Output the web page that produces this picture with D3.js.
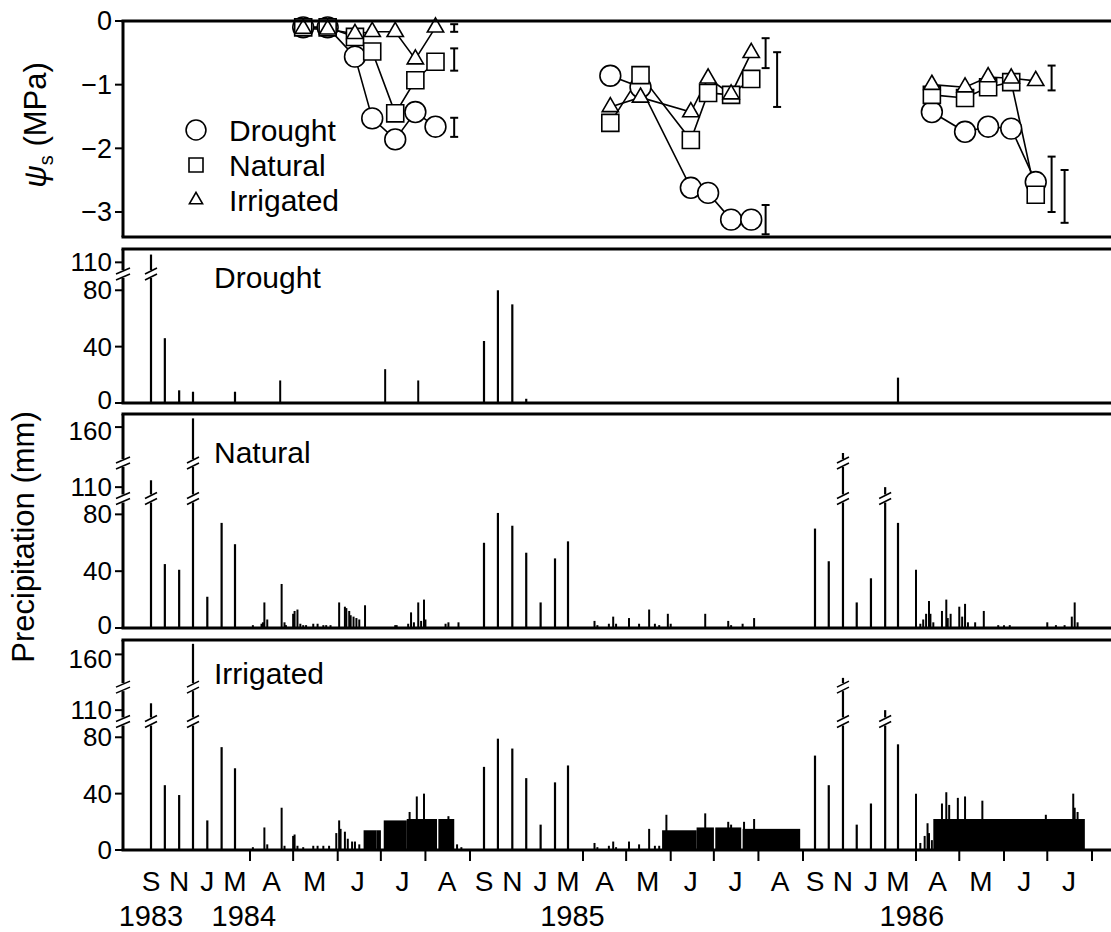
<!DOCTYPE html>
<html>
<head>
  <meta charset="utf-8">
  <title>Soil water potential and precipitation, 1983-1986</title>
  <style>
    html, body { margin: 0; padding: 0; background: #fff; overflow: hidden; }
    svg { display: block; font-family: "Liberation Sans", Arial, Helvetica, sans-serif; }
  </style>
  <script src="https://d3js.org/d3.v7.min.js"></script>
</head>
<body>
<script>
  // ---- x axis: month boundaries (ticks), month letters, years ----
  const monthTicks = ["1984-04-01","1984-05-01","1984-06-01","1984-07-01","1984-08-01","1984-09-01",
    "1985-04-01","1985-05-01","1985-06-01","1985-07-01","1985-08-01","1985-09-01",
    "1986-04-01","1986-05-01","1986-06-01","1986-07-01","1986-08-01"];
  const monthLabels = ["S","N","J","M","A","M","J","J","A",
    "S","N","J","M","A","M","J","J","A",
    "S","N","J","M","A","M","J","J"];
  const monthLabelDates = ["1983-09-15","1983-11-15","1984-01-15","1984-03-15","1984-04-16","1984-05-16","1984-06-15","1984-07-16","1984-08-16",
    "1984-09-15","1984-11-15","1985-01-15","1985-03-15","1985-04-16","1985-05-16","1985-06-15","1985-07-16","1985-08-16",
    "1985-09-15","1985-11-15","1986-01-15","1986-03-15","1986-04-16","1986-05-16","1986-06-15","1986-07-16"];
  const yearLabels = ["1983","1984","1985","1986"];
  const yearLabelDates = ["1983-09-15","1984-03-25","1985-03-20","1986-03-28"];

  // ---- monthly precipitation totals in the rainy season (mm) ----
  const rainMonths = ["1983-09-15","1983-10-15","1983-11-15","1983-12-15","1984-01-15","1984-02-15","1984-03-15",
    "1984-09-15","1984-10-15","1984-11-15","1984-12-15","1985-01-15","1985-02-15","1985-03-15",
    "1985-09-15","1985-10-15","1985-11-15","1985-12-15","1986-01-15","1986-02-15","1986-03-15"];
  const droughtMonthly   = [117,46,9,8,0,0,8,   44,80,70,3,0,0,0,    0,0,0,0,0,0,18];
  const naturalMonthly   = [116,45,41,168,22,74,59, 60,81,72,53,18,49,61, 70,47,138,18,35,110,74];
  const irrigatedMonthly = [116,46,39,171,21,73,58, 59,79,72,51,18,48,60, 67,46,138,18,33,110,75];

  // ---- daily precipitation in the growing season (mm) ----
  const droughtDaily = [["1984-04-22",16],["1984-07-04",24],["1984-07-27",16]];
  const naturalDaily = [
    ["1984-04-03",2],["1984-04-09",3],["1984-04-10",4],["1984-04-11",18],["1984-04-13",6],["1984-04-23",31],
    ["1984-04-25",4],["1984-04-26",2],["1984-05-01",10],["1984-05-02",12],["1984-05-04",13],["1984-05-06",3],
    ["1984-05-08",2],["1984-05-10",2],["1984-05-15",3],["1984-05-18",3],["1984-05-22",2],["1984-05-24",2],
    ["1984-05-27",2],["1984-06-02",18],["1984-06-06",15],["1984-06-07",14],["1984-06-09",12],["1984-06-10",9],
    ["1984-06-12",8],["1984-06-14",7],["1984-06-16",6],["1984-06-20",16],["1984-07-11",2],["1984-07-12",2],
    ["1984-07-20",3],["1984-07-22",11],["1984-07-24",4],["1984-07-27",18],["1984-07-29",5],["1984-07-31",20],
    ["1984-08-01",6],["1984-08-15",3],["1984-08-17",4],["1984-08-24",4],
    ["1985-04-09",5],["1985-04-11",2],["1985-04-19",3],["1985-04-22",8],["1985-04-24",3],["1985-05-03",7],
    ["1985-05-10",3],["1985-05-17",13],["1985-05-21",3],["1985-05-24",2],["1985-05-30",10],["1985-06-01",3],
    ["1985-06-25",10],["1985-07-11",5],["1985-07-13",2],["1985-07-21",3],["1985-07-29",7],
    ["1986-04-01",41],["1986-04-04",3],["1986-04-06",6],["1986-04-08",10],["1986-04-10",19],["1986-04-11",10],
    ["1986-04-13",4],["1986-04-19",12],["1986-04-22",20],["1986-04-23",7],["1986-04-25",10],["1986-05-01",15],
    ["1986-05-03",8],["1986-05-05",17],["1986-05-07",4],["1986-05-12",4],["1986-05-18",12],["1986-05-28",2],
    ["1986-06-01",2],["1986-06-05",2],["1986-07-01",4],["1986-07-07",2],["1986-07-13",2],["1986-07-18",8],
    ["1986-07-20",18],["1986-07-22",4]];
  // irrigated plot: rain plus irrigation (totals)
  const irrigatedDaily = [
    ["1984-04-03",2],["1984-04-11",16],["1984-04-13",4],["1984-04-23",30],["1984-04-25",3],["1984-05-01",10],
    ["1984-05-02",11],["1984-05-04",3],["1984-05-08",2],["1984-05-15",3],["1984-05-18",3],["1984-05-22",3],
    ["1984-05-26",3],["1984-05-31",12],["1984-06-02",21],["1984-06-03",15],["1984-06-06",13],["1984-06-08",8],
    ["1984-06-11",6],["1984-06-13",6],["1984-06-16",4],["1984-07-21",27],["1984-07-26",38],["1984-07-31",40],
    ["1984-08-17",24],["1984-08-23",4],["1984-08-26",2],
    ["1985-04-09",5],["1985-04-11",2],["1985-04-19",3],["1985-04-22",6],["1985-04-24",2],["1985-05-03",6],
    ["1985-05-10",4],["1985-05-17",15],["1985-05-21",3],["1985-05-24",3],["1985-05-29",25],["1985-06-25",26],
    ["1985-07-11",20],["1985-07-13",18],["1985-07-22",20],["1985-07-29",22],
    ["1986-04-01",40],["1986-04-04",5],["1986-04-07",10],["1986-04-09",19],["1986-04-10",12],["1986-04-12",7],
    ["1986-04-19",33],["1986-04-22",41],["1986-04-24",32],["1986-04-30",37],["1986-05-05",38],["1986-05-17",35],
    ["1986-06-30",25],["1986-07-19",40],["1986-07-20",30],["1986-07-22",27]];
  // irrigation periods: start, end, mm per day
  const irrigStart = ["1984-06-19","1984-06-28","1984-07-03","1984-07-19","1984-08-10",
    "1985-05-26","1985-06-19","1985-07-02","1985-07-21","1986-04-13"];
  const irrigEnd   = ["1984-06-27","1984-06-30","1984-07-18","1984-08-08","1984-08-20",
    "1985-06-18","1985-06-30","1985-07-19","1985-08-29","1986-07-26"];
  const irrigRate  = [14,14,21,22,22, 14,16,16,15, 22];

  // ---- soil water potential (MPa), one sub-array per season ----
  const psiDates = [
    ["1984-05-08","1984-05-25","1984-06-13","1984-06-25","1984-07-11","1984-07-25","1984-08-08"],
    ["1985-04-20","1985-05-11","1985-06-15","1985-06-27","1985-07-13","1985-07-27"],
    ["1986-04-12","1986-05-05","1986-05-21","1986-06-06","1986-06-23"]];
  const psiDrought = [
    [-0.1,-0.1,-0.56,-1.53,-1.86,-1.43,-1.66],
    [-0.86,-1.04,-2.62,-2.7,-3.12,-3.12],
    [-1.43,-1.74,-1.66,-1.69,-2.53]];
  const psiNatural = [
    [-0.1,-0.1,-0.25,-0.48,-1.45,-0.93,-0.64],
    [-1.6,-0.85,-1.87,-1.13,-1.16,-0.91],
    [-1.16,-1.21,-1.04,-0.96,-2.73]];
  const psiIrrigated = [
    [-0.12,-0.13,-0.2,-0.17,-0.17,-0.6,-0.1],
    [-1.35,-1.2,-1.43,-0.9,-1.15,-0.5],
    [-1.0,-1.04,-0.88,-0.9,-0.94]];
  // error bars (date, upper, lower)
  const errDates = ["1984-08-21","1984-08-21","1984-08-21","1985-08-06","1985-08-14","1985-08-06","1986-07-04","1986-07-04","1986-07-13"];
  const errHi = [-0.05,-0.43,-1.52,-0.27,-0.49,-2.89,-0.7,-2.13,-2.34];
  const errLo = [-0.17,-0.78,-1.82,-0.74,-1.35,-3.35,-1.09,-3.0,-3.17];

  const W = 1111, H = 932, X0 = 123;
  const parse = d3.utcParse("%Y-%m-%d");

  // compressed rainy season (monthly totals), expanded growing season (daily)
  const x = d3.scaleUtc()
    .domain(["1983-09-01","1983-09-15","1984-03-15","1984-04-01","1984-09-01","1984-09-15","1985-03-15",
             "1985-04-01","1985-09-01","1985-09-15","1986-03-15","1986-04-01","1986-08-01","1986-09-01"].map(parse))
    .range([137,151,235,250,470,484,568,583,803,815,898,916,1092,1136]);

  const svg = d3.select("body").append("svg").attr("width", W).attr("height", H);

  function hline(y, x1, x2, w) {
    svg.append("line").attr("x1", x1).attr("x2", x2).attr("y1", y).attr("y2", y)
      .attr("stroke", "#000").attr("stroke-width", w);
  }
  function breakMark(cx, cy, hw) {
    svg.append("line").attr("x1", cx).attr("x2", cx).attr("y1", cy - 4).attr("y2", cy + 4)
      .attr("stroke", "#fff").attr("stroke-width", 5);
    [-3, 3].forEach(o => svg.append("line")
      .attr("x1", cx - hw).attr("y1", cy + o + 3).attr("x2", cx + hw).attr("y2", cy + o - 3)
      .attr("stroke", "#000").attr("stroke-width", 1.6));
  }

  // ---- precipitation panels ----
  const panels = [
    { name: "Drought", top: 249, base: 403, dom: [0, 88, 104, 122], offs: [0, -124, -134, -154],
      breaks: [96], ticks: [0, 40, 80, 110], monthly: droughtMonthly, daily: droughtDaily, labelY: 288 },
    { name: "Natural", top: 414, base: 628, dom: [0, 88, 104, 118, 150, 172], offs: [0, -125, -134, -150, -190, -214],
      breaks: [96, 130], ticks: [0, 40, 80, 110, 160], monthly: naturalMonthly, daily: naturalDaily, labelY: 463 },
    { name: "Irrigated", top: 640, base: 850, dom: [0, 88, 104, 118, 150, 175], offs: [0, -124, -133, -149, -186, -210],
      breaks: [96, 130], ticks: [0, 40, 80, 110, 160], monthly: irrigatedMonthly, daily: irrigatedDaily, labelY: 684 }
  ];

  panels.forEach((p, pi) => {
    const y = d3.scaleLinear().domain(p.dom).range(p.offs.map(o => p.base + o)).clamp(true);
    const g = svg.append("g");

    if (p.name === "Irrigated") {
      g.selectAll("rect.irr").data(irrigRate).join("rect")
        .attr("x", (d, i) => x(parse(irrigStart[i])))
        .attr("width", (d, i) => x(parse(irrigEnd[i])) - x(parse(irrigStart[i])) + 1.5)
        .attr("y", d => y(d)).attr("height", d => p.base - y(d)).attr("fill", "#000");
    }

    const bars = rainMonths.map((m, i) => ({ date: parse(m), v: p.monthly[i], w: 2.2 }))
      .concat(p.daily.map(d => ({ date: parse(d[0]), v: d[1], w: 2 })))
      .filter(d => d.v > 0);
    g.selectAll("line.bar").data(bars).join("line")
      .attr("x1", d => x(d.date)).attr("x2", d => x(d.date))
      .attr("y1", p.base).attr("y2", d => y(d.v))
      .attr("stroke", "#000").attr("stroke-width", d => d.w);
    bars.forEach(d => p.breaks.forEach(b => { if (d.v > b + 4) breakMark(x(d.date), y(b), 6); }));

    // frame: top border, baseline, left axis
    hline(p.top, X0 - 1.5, W, 3);
    hline(p.base, X0 - 1.5, W, 3);
    svg.append("line").attr("x1", X0).attr("x2", X0).attr("y1", p.base).attr("y2", p.top)
      .attr("stroke", "#000").attr("stroke-width", 3);
    p.breaks.forEach(b => breakMark(X0, y(b), 7));
    p.ticks.forEach(t => {
      svg.append("line").attr("x1", X0 - 8).attr("x2", X0).attr("y1", y(t)).attr("y2", y(t))
        .attr("stroke", "#000").attr("stroke-width", 2);
      // nudge the labels that sit next to a neighbouring panel so they do not collide
      const nudge = (t === 0 && pi < 2) ? -3 : (t === 160 ? 4 : 0);
      svg.append("text").attr("x", X0 - 11).attr("y", y(t) + nudge).attr("dy", "0.35em")
        .attr("text-anchor", "end").style("font-size", "26px").text(t);
    });
    svg.append("text").attr("x", 214).attr("y", p.labelY).style("font-size", "30px").text(p.name);
  });

  // bottom axis ticks and labels
  monthTicks.forEach(t => {
    svg.append("line").attr("x1", x(parse(t))).attr("x2", x(parse(t))).attr("y1", 850).attr("y2", 861)
      .attr("stroke", "#000").attr("stroke-width", 2);
  });
  svg.selectAll("text.month").data(monthLabels).join("text")
    .attr("x", (d, i) => x(parse(monthLabelDates[i]))).attr("y", 891)
    .attr("text-anchor", "middle").style("font-size", "28px").text(d => d);
  svg.selectAll("text.year").data(yearLabels).join("text")
    .attr("x", (d, i) => x(parse(yearLabelDates[i]))).attr("y", 926)
    .attr("text-anchor", "middle").style("font-size", "29px").text(d => d);

  // ---- soil water potential panel ----
  const yPsi = d3.scaleLinear().domain([0, -3]).range([21, 212]);
  const psiTop = 21, psiBottom = 237;

  // error bars
  errDates.forEach((d, i) => {
    const cx = x(parse(d));
    svg.append("line").attr("x1", cx).attr("x2", cx).attr("y1", yPsi(errHi[i])).attr("y2", Math.min(yPsi(errLo[i]), psiBottom))
      .attr("stroke", "#000").attr("stroke-width", 2);
    [errHi[i], errLo[i]].forEach(v => {
      if (yPsi(v) < psiBottom) svg.append("line").attr("x1", cx - 4).attr("x2", cx + 4)
        .attr("y1", yPsi(v)).attr("y2", yPsi(v)).attr("stroke", "#000").attr("stroke-width", 2);
    });
  });

  const series = [
    { vals: psiDrought, sym: d3.symbolCircle, size: 340 },
    { vals: psiNatural, sym: d3.symbolSquare, size: 290 },
    { vals: psiIrrigated, sym: d3.symbolTriangle, size: 115 }
  ];
  const line = d3.line().x(d => x(d.date)).y(d => yPsi(d.v));
  const pts = series.map(s => psiDates.map((ds, k) => ds.map((d, j) => ({ date: parse(d), v: s.vals[k][j] }))));
  pts.forEach(seasons => seasons.forEach(season => {
    svg.append("path").datum(season).attr("d", line).attr("fill", "none")
      .attr("stroke", "#000").attr("stroke-width", 1.6);
  }));
  series.forEach((s, si) => {
    const sym = d3.symbol().type(s.sym).size(s.size);
    pts[si].flat().forEach(d => {
      svg.append("path").attr("d", sym()).attr("transform", `translate(${x(d.date)},${yPsi(d.v)})`)
        .attr("fill", "#fff").attr("stroke", "#000").attr("stroke-width", 1.6);
    });
  });

  // frame
  hline(psiTop, X0 - 1.5, W, 3);
  hline(psiBottom, X0 - 1.5, W, 3);
  svg.append("line").attr("x1", X0).attr("x2", X0).attr("y1", psiBottom).attr("y2", psiTop)
    .attr("stroke", "#000").attr("stroke-width", 3);
  [0, -1, -2, -3].forEach(t => {
    svg.append("line").attr("x1", X0 - 8).attr("x2", X0).attr("y1", yPsi(t)).attr("y2", yPsi(t))
      .attr("stroke", "#000").attr("stroke-width", 2);
    svg.append("text").attr("x", X0 - 11).attr("y", yPsi(t)).attr("dy", "0.35em")
      .attr("text-anchor", "end").style("font-size", "27px").text(t === 0 ? "0" : "\u2212" + Math.abs(t));
  });

  // legend
  const legendNames = ["Drought", "Natural", "Irrigated"];
  const legendSizes = [310, 196, 75];
  legendNames.forEach((n, i) => {
    const ly = 130 + i * 35;
    svg.append("path").attr("d", d3.symbol().type(series[i].sym).size(legendSizes[i])())
      .attr("transform", `translate(196,${ly})`).attr("fill", "#fff").attr("stroke", "#000").attr("stroke-width", 1.6);
    svg.append("text").attr("x", 229).attr("y", ly).attr("dy", "0.36em").style("font-size", "30px").text(n);
  });

  // axis titles
  const psiTitle = svg.append("text").attr("transform", "translate(46,125) rotate(-90)")
    .attr("text-anchor", "middle").style("font-size", "31px");
  psiTitle.append("tspan").style("font-style", "italic").text("\u03c8");
  psiTitle.append("tspan").attr("dy", 7).style("font-size", "20px").text("s");
  psiTitle.append("tspan").attr("dy", -7).text(" (MPa)");
  svg.append("text").attr("transform", "translate(34,537) rotate(-90)")
    .attr("text-anchor", "middle").style("font-size", "31px").text("Precipitation (mm)");
</script>
</body>
</html>
